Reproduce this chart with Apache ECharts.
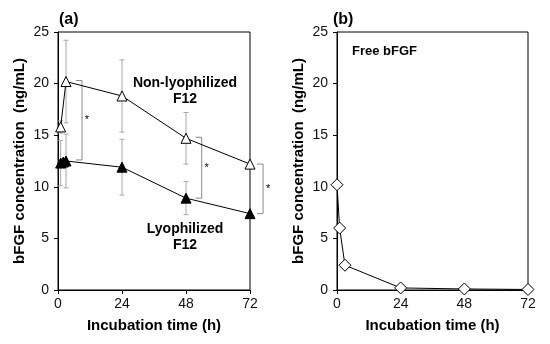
<!DOCTYPE html>
<html>
<head>
<meta charset="utf-8">
<script src="https://cdn.jsdelivr.net/npm/echarts@6/dist/echarts.min.js"></script>
<style>html,body{margin:0;padding:0;background:#fff}#c{width:550px;height:344px}</style>
</head>
<body>
<div id="c"></div>
<script>
// ---- data ----
const xTicks = [0, 24, 48, 72];
const yTicks = [0, 5, 10, 15, 20, 25];
const nonLyoTimes = [1, 3, 24, 48, 72];
const nonLyoMean  = [15.8, 20.2, 18.8, 14.7, 12.2];
const nonLyoErr   = [0.6, 4.0, 3.5, 2.5, 0];
const lyoTimes = [1, 2, 3, 24, 48, 72];
const lyoMean  = [12.3, 12.4, 12.5, 11.9, 8.9, 7.4];
const lyoErr   = [2.2, 0, 2.6, 2.7, 1.6, 0];
const freeTimes = [0, 1, 3, 24, 48, 72];
const freeMean  = [10.2, 6.0, 2.4, 0.2, 0.1, 0.05];
// significance brackets: [x (h), top value, bottom value]
const brackets = [[9.0, 20.3, 12.6], [53.9, 14.8, 8.9], [76.9, 12.2, 7.4]];

const FONT = 'Arial, "Liberation Sans", sans-serif';
const zip = (a, b) => a.map((v, i) => [v, b[i]]);
const zip3 = (a, b, c) => a.map((v, i) => [v, b[i], c[i]]);

function errRender(params, api) {
  const x = api.value(0), y = api.value(1), e = api.value(2);
  if (!e) return null;
  const t = api.coord([x, y + e]), b = api.coord([x, y - e]);
  const w = 2.5, st = {stroke: '#a8a8a8', lineWidth: 1};
  return {type: 'group', children: [
    {type: 'line', shape: {x1: t[0], y1: t[1], x2: b[0], y2: b[1]}, style: st},
    {type: 'line', shape: {x1: t[0] - w, y1: t[1], x2: t[0] + w, y2: t[1]}, style: st},
    {type: 'line', shape: {x1: b[0] - w, y1: b[1], x2: b[0] + w, y2: b[1]}, style: st}
  ]};
}
function bracketRender(params, api) {
  const x = api.value(0), top = api.value(1), bot = api.value(2);
  const t = api.coord([x, top]), b = api.coord([x, bot]);
  const cap = 6;
  return {type: 'group', children: [
    {type: 'polyline', shape: {points: [[t[0] - cap, t[1]], [t[0], t[1]], [b[0], b[1]], [b[0] - cap, b[1]]]},
      style: {stroke: '#8a8a8a', lineWidth: 1, fill: null}},
    {type: 'text', x: t[0] + 5, y: (t[1] + b[1]) / 2,
      style: {text: '*', font: '11px ' + FONT, fill: '#000', verticalAlign: 'middle', align: 'center'}}
  ]};
}

const axisCommon = {
  axisLine: {show: true, lineStyle: {color: '#000', width: 1}},
  axisTick: {show: true, inside: false, length: 4, lineStyle: {color: '#000'}},
  splitLine: {show: false},
  nameLocation: 'middle',
  nameTextStyle: {fontFamily: FONT, fontWeight: 'bold', fontSize: 15, color: '#000'}
};
function xAx(gi) {
  return Object.assign({}, axisCommon, {
    type: 'value', gridIndex: gi, min: xTicks[0], max: xTicks[xTicks.length - 1], interval: 24,
    name: 'Incubation time (h)', nameGap: 28,
    axisLabel: {fontFamily: FONT, fontSize: 14, color: '#111', margin: 7}
  });
}
function yAx(gi) {
  return Object.assign({}, axisCommon, {
    type: 'value', gridIndex: gi, min: yTicks[0], max: yTicks[yTicks.length - 1], interval: 5,
    name: 'bFGF concentration  (ng/mL)', nameGap: 31,
    axisLabel: {fontFamily: FONT, fontSize: 14, color: '#111', margin: 9}
  });
}

const chart = echarts.init(document.getElementById('c'), null, {renderer: 'canvas'});
chart.setOption({
  animation: false,
  backgroundColor: '#fff',
  grid: [
    {left: 58, top: 32, width: 192, height: 258, show: true, borderColor: '#000', borderWidth: 1},
    {left: 337, top: 32, width: 191, height: 258, show: true, borderColor: '#000', borderWidth: 1}
  ],
  xAxis: [xAx(0), xAx(1)],
  yAxis: [yAx(0), yAx(1)],
  series: [
    {type: 'custom', xAxisIndex: 0, yAxisIndex: 0, renderItem: errRender, data: zip3(nonLyoTimes, nonLyoMean, nonLyoErr), z: 1, clip: false},
    {type: 'custom', xAxisIndex: 0, yAxisIndex: 0, renderItem: errRender, data: zip3(lyoTimes, lyoMean, lyoErr), z: 1, clip: false},
    {type: 'custom', xAxisIndex: 0, yAxisIndex: 0, renderItem: bracketRender, data: brackets, z: 1, clip: false},
    {type: 'line', xAxisIndex: 0, yAxisIndex: 0, data: zip(nonLyoTimes, nonLyoMean), symbol: 'triangle', symbolSize: 10,
      lineStyle: {color: '#000', width: 1}, itemStyle: {color: '#fff', borderColor: '#000', borderWidth: 1}, z: 3},
    {type: 'line', xAxisIndex: 0, yAxisIndex: 0, data: zip(lyoTimes, lyoMean), symbol: 'triangle', symbolSize: 10,
      lineStyle: {color: '#000', width: 1}, itemStyle: {color: '#000', borderColor: '#000', borderWidth: 1}, z: 3},
    {type: 'line', xAxisIndex: 1, yAxisIndex: 1, data: zip(freeTimes, freeMean), symbol: 'diamond', symbolSize: 12,
      lineStyle: {color: '#000', width: 1}, itemStyle: {color: '#fff', borderColor: '#000', borderWidth: 1}, z: 3, clip: false}
  ],
  graphic: [
    {type: 'text', left: 59, top: 12, style: {text: '(a)', font: 'bold 16px ' + FONT, fill: '#000'}},
    {type: 'text', left: 333, top: 12, style: {text: '(b)', font: 'bold 16px ' + FONT, fill: '#000'}},
    {type: 'text', left: 352, top: 45, style: {text: 'Free bFGF', font: 'bold 13px ' + FONT, fill: '#000'}},
    {type: 'text', x: 185, y: 75, style: {text: 'Non-lyophilized\nF12', font: 'bold 14px ' + FONT, fill: '#000', align: 'center', lineHeight: 16}},
    {type: 'text', x: 185, y: 221, style: {text: 'Lyophilized\nF12', font: 'bold 14px ' + FONT, fill: '#000', align: 'center', lineHeight: 16}}
  ]
});
</script>
</body>
</html>
